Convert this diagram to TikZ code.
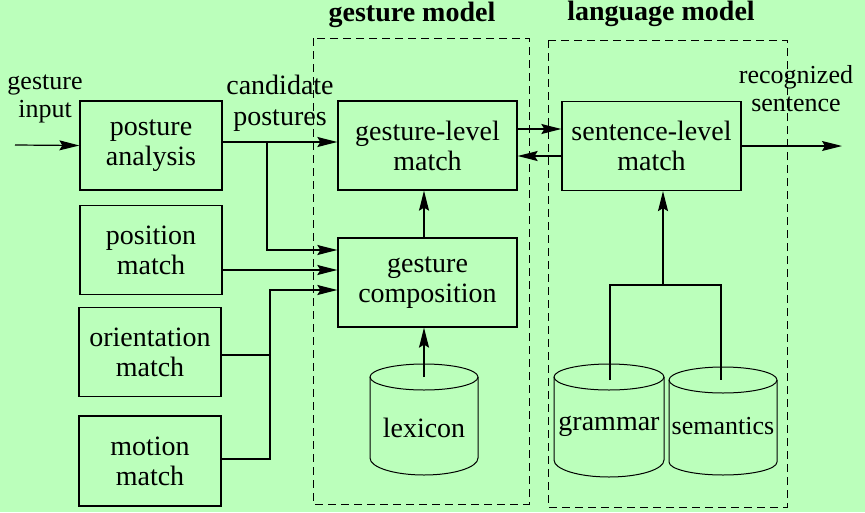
\documentclass[tikz,border=0pt]{standalone}
\usepackage{fontspec}
\setmainfont{Liberation Serif}
\usetikzlibrary{arrows.meta}
\definecolor{bgg}{RGB}{187,255,187}
\begin{document}
\begin{tikzpicture}[x=1pt,y=-1pt,
  line width=1.2pt,
  box/.style={draw, line width=1.3pt, minimum width=142pt, minimum height=89pt, inner sep=0pt, align=center, font=\fontsize{28}{30}\selectfont},
  wbox/.style={box, minimum width=179pt},
  lbl/.style={align=center, inner sep=0pt, font=\fontsize{26}{28}\selectfont},
  big/.style={align=center, inner sep=0pt, font=\fontsize{28}{31}\selectfont},
  ttl/.style={inner sep=0pt, font=\fontsize{28}{30}\selectfont\bfseries},
  arr/.style={-{Stealth[length=20pt,width=10pt,inset=3pt]}},
  grp/.style={draw, dash pattern=on 8pt off 5pt, line width=1pt},
  db/.style={draw, line width=1pt}
]
\fill[bgg] (0,0) rectangle (865,512);
\useasboundingbox (0,0) rectangle (865,512);

% boxes
\node[box] (pa) at (151,145.5) {posture\\analysis};
\node[box] (pm) at (151,250) {position\\match};
\node[box] (om) at (150,352) {orientation\\match};
\node[box, minimum height=90pt] (mm) at (150,461) {motion\\match};
\node[wbox] (gl) at (427.5,145.5) {gesture-level\\match};
\node[wbox] (gc) at (427.5,282.5) {gesture\\composition};
\node[wbox] (sl) at (651.5,146) {sentence-level\\match};

% groups
\draw[grp] (313,38) rectangle (529,504);
\draw[grp] (548,40) rectangle (787,507);
\node[ttl] (tg) at (412,15) {gesture model};
\node[ttl] (tl) at (661,14) {language model};

% cylinders
\draw[db] (370,377) -- (370,458) arc[start angle=180,end angle=360,x radius=54pt,y radius=17pt] -- (478,377);
\draw[db] (424,377) ellipse [x radius=54pt, y radius=13pt];
\node[big] (lex) at (424,428) {lexicon};
\coordinate (lexTop) at (424,377);

\draw[db] (554,377) -- (554,460) arc[start angle=180,end angle=360,x radius=55pt,y radius=17pt] -- (664,377);
\draw[db] (609,377) ellipse [x radius=55pt, y radius=13pt];
\node[big] (gr) at (609,426) {grammar};

\draw[db] (669,380) -- (669,462) arc[start angle=180,end angle=360,x radius=54pt,y radius=13pt] -- (777,380);
\draw[db] (723,380) ellipse [x radius=54pt, y radius=13pt];
\node[lbl] (se) at (723,426) {semantics};

% labels
\node[lbl] (gi) at (45,99) {gesture\\input};
\node[big] (cp) at (280,103) {candidate\\postures};
\node[lbl] (rs) at (796,89) {recognized\\sentence};

% helper coordinates
\coordinate (in) at (15,145);
\coordinate (out) at (842,146);
\coordinate (y142) at (0,142);
\coordinate (b1) at (267,142);
\coordinate (y250) at (0,250);
\coordinate (y270) at (0,270);
\coordinate (y290) at (0,290);
\coordinate (y355) at (0,355);
\coordinate (y459) at (0,459);
\coordinate (j1) at (270,290);
\coordinate (j2) at (270,355);
\coordinate (y129) at (0,129);
\coordinate (y156) at (0,156);
\coordinate (y146) at (0,146);
\coordinate (grT) at (610,380);
\coordinate (seT) at (721,380);
\coordinate (jl) at (663,285);

% connectors
\draw[arr] (in) -- (pa.west);
\draw[arr] (pa.east |- y142) -- (gl.west |- y142);
\draw[arr] (b1) |- (gc.west |- y250);
\draw[arr] (pm.east |- y270) -- (gc.west |- y270);
\draw (om.east |- y355) -- (j2);
\draw[arr] (mm.east |- y459) -| (j1) -- (gc.west |- y290);
\draw[arr] (lexTop) -- (lexTop |- gc.south);
\draw[arr] (lexTop |- gc.north) -- (lexTop |- gl.south);
\draw[arr] (gl.east |- y129) -- (sl.west |- y129);
\draw[arr] (sl.west |- y156) -- (gl.east |- y156);
\draw[arr] (sl.east |- y146) -- (out);
\draw (grT) |- (jl) -| (seT);
\draw[arr] (jl) -- (jl |- sl.south);
\end{tikzpicture}
\end{document}
